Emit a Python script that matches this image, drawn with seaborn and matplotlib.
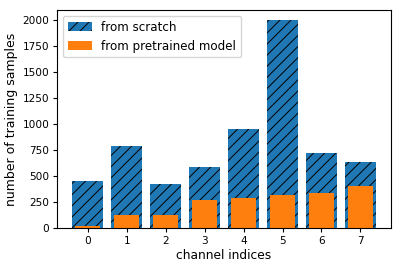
import matplotlib
matplotlib.use("Agg")
import matplotlib.pyplot as plt
import seaborn as sns
import pandas as pd
from matplotlib.patches import Patch

channels = ["0", "1", "2", "3", "4", "5", "6", "7"]
scratch = [450, 790, 425, 588, 955, 2000, 723, 637]
pretrained = [20, 125, 125, 270, 289, 318, 338, 405]

plt.rcParams["hatch.linewidth"] = 0.7
fig, ax = plt.subplots(figsize=(4.02, 2.69), dpi=100)

blue = "#1f77b4"
orange = "#ff7f0e"

df = pd.DataFrame({"channel": channels, "scratch": scratch, "pretrained": pretrained})
sns.barplot(data=df, x="channel", y="scratch", color=blue, saturation=1,
            width=0.8, ax=ax, order=channels)
n = len(ax.patches)
for p in ax.patches:
    p.set_hatch("///")
    p.set_edgecolor("black")
    p.set_linewidth(0)
sns.barplot(data=df, x="channel", y="pretrained", color=orange, saturation=1,
            width=0.65, ax=ax, order=channels)
for p in ax.patches[n:]:
    p.set_linewidth(0)

ax.set_ylim(0, 2100)
ax.set_yticks([0, 250, 500, 750, 1000, 1250, 1500, 1750, 2000])
ax.set_xlim(-0.79, 7.79)
ax.tick_params(labelsize=7.6, length=3, pad=2.5)
ax.set_xlabel("channel indices", fontsize=8.8, labelpad=2)
ax.set_ylabel("number of training samples", fontsize=9.0, labelpad=3)

handles = [Patch(facecolor=blue, edgecolor="black", linewidth=0, hatch="///", label="from scratch"),
           Patch(facecolor=orange, linewidth=0, label="from pretrained model")]
ax.legend(handles=handles, loc="upper left", fontsize=8.6, framealpha=0.8,
          handlelength=2.0, borderaxespad=0.5)

fig.subplots_adjust(left=0.142, right=0.973, top=0.963, bottom=0.152)
fig.savefig("out.png", dpi=100)
